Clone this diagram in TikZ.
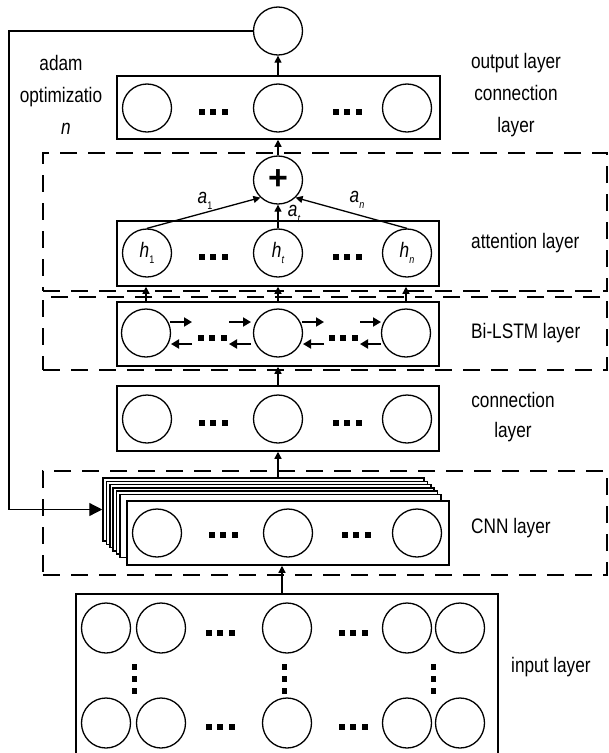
\documentclass[tikz,border=0pt]{standalone}
\usepackage{fontspec}
\setmainfont{Liberation Sans}[FakeStretch=0.82]
\newfontfamily\symfont{Liberation Sans}
\usetikzlibrary{arrows.meta,shapes.geometric}
% italic symbol with a small lowered index
\newcommand\sublbl[2]{{\itshape #1}\raisebox{-0.55ex}{\fontsize{11}{11}\selectfont #2}}
% three square dots in a row, centred on (#1,#2)
\newcommand\rowdots[2]{\foreach \k in {-1,0,1}{\fill ({#1+\k*11.5-3},{#2-3}) rectangle ++(6,6);}}
% three square dots in a column
\newcommand\coldots[2]{\foreach \k in {-1,0,1}{\fill ({#1-2.5},{#2+\k*12-3}) rectangle ++(5,6);}}
\begin{document}
\begin{tikzpicture}[x=1pt,y=-1pt,
  neuron/.style={ellipse,draw,line width=1.3pt,minimum width=49pt,minimum height=48pt,inner sep=0pt},
  layerbox/.style={draw,line width=1.5pt,inner sep=0pt,minimum width=322pt,minimum height=64pt},
  groupbox/.style={draw,line width=1.5pt,dash pattern=on 17pt off 11pt,inner sep=0pt,minimum width=564pt},
  link/.style={line width=1.3pt,-{Triangle[length=7pt,width=7pt]}},
  lstmarrow/.style={line width=1.8pt,-{Triangle[length=8pt,width=9pt]}},
  txt/.style={font=\fontsize{21}{32}\selectfont,inner sep=0pt,align=center},
  sym/.style={font=\fontsize{21}{21}\selectfont,inner sep=0pt},
]
\useasboundingbox (0,0) rectangle (609,753);

% dashed group frames
\node[groupbox,minimum height=138pt] (attgrp) at (325,222) {};
\node[groupbox,minimum height=73pt] (lstmgrp) at (325,333.5) {};
\node[groupbox,minimum height=104pt] (cnngrp) at (325,523) {};

% output node and output connection layer
\node[neuron] (out) at (278,31) {};
\node[layerbox,minimum width=323pt,minimum height=63pt] (outbox) at (278.5,107.5) {};
\node[neuron] (o1) at (147,108) {};
\node[neuron] (o2) at (278,108) {};
\node[neuron] (o3) at (407,108) {};
\rowdots{213}{112}
\rowdots{347}{112}

% attention layer
\node[neuron] (plus) at (278,180) {\symfont\fontsize{34}{34}\selectfont\bfseries +};
\node[layerbox,minimum height=65pt] (attbox) at (278,253.5) {};
\node[neuron,sym] (h1) at (147,253) {\sublbl{h}{1}};
\node[neuron,sym] (h2) at (278,253) {\sublbl{h}{\itshape t}};
\node[neuron,sym] (h3) at (407,253) {\sublbl{h}{\itshape n}};
\rowdots{213}{257}
\rowdots{347}{257}

% Bi-LSTM layer
\node[layerbox] (lstmbox) at (278,334) {};
\node[neuron] (l1) at (146,333) {};
\node[neuron] (l2) at (278,333) {};
\node[neuron] (l3) at (406,333) {};
\rowdots{212}{338}
\rowdots{343}{338}

% connection layer
\node[layerbox,minimum height=65pt] (connbox) at (278,418.5) {};
\node[neuron] (c1) at (147,419) {};
\node[neuron] (c2) at (278,419) {};
\node[neuron] (c3) at (407,419) {};
\rowdots{213}{423}
\rowdots{347}{423}

% CNN layer: stack of feature maps, front map last
\foreach \i in {0,...,5}
  \node[layerbox,fill=white,minimum width=321pt,minimum height=63pt] (stack\i) at ({263.5+3.4*\i},{509.5+3.3*\i}) {};
\node[layerbox,fill=white,minimum width=322pt,minimum height=64pt] (stack6) at (288,533) {};
\node[neuron] (k1) at (157,533) {};
\node[neuron] (k2) at (288,533) {};
\node[neuron] (k3) at (417,533) {};
\rowdots{223}{535}
\rowdots{356}{535}

% input layer
\node[layerbox,minimum width=422pt,minimum height=172pt,anchor=north] (inbox) at (287,593) {};
\foreach \r/\yy in {a/628,b/723}{
  \node[neuron,minimum height=50pt] (i\r1) at (106,\yy) {};
  \node[neuron,minimum height=50pt] (i\r2) at (161,\yy) {};
  \node[neuron,minimum height=50pt] (i\r3) at (287,\yy) {};
  \node[neuron,minimum height=50pt] (i\r4) at (407,\yy) {};
  \node[neuron,minimum height=50pt] (i\r5) at (460,\yy) {};
}
\rowdots{220}{633}
\rowdots{353}{633}
\rowdots{220}{727}
\rowdots{353}{727}
\coldots{134}{679}
\coldots{284}{679}
\coldots{433}{679}

% connectors between layers
\draw[link] (out |- outbox.north) -- (out.south);
\draw[link] (plus.north) -- (plus |- outbox.south);
\draw[link] (h1.north) -- (plus.225);
\draw[link] (h2.north) -- (plus.south);
\draw[link] (h3.north) -- (plus.-45);
\foreach \n in {1,2,3}
  \draw[link] (l\n |- lstmbox.north) -- (l\n |- attbox.south);
\draw[link] (connbox.north) -- (lstmbox.south);
\draw[link] (connbox.south |- stack0.north) -- (connbox.south);
\coordinate (inarrow) at (282,593);
\draw[link] (inarrow) -- (inarrow |- stack6.south);

% feedback path of the optimiser
\coordinate (fbtop) at (9,31);
\coordinate (fbbot) at (9,509.5);
\draw[line width=1.3pt,-{Triangle[length=13pt,width=13pt]}] (out.west) -- (fbtop) -- (fbbot) -- (stack0.west);

% recurrent links of the Bi-LSTM
\draw[lstmarrow] ([shift={(24pt,11pt)}]l1.center) -- ++(22pt,0pt);
\draw[lstmarrow] ([shift={(46pt,-11pt)}]l1.center) -- ++(-21pt,0pt);
\draw[lstmarrow] ([shift={(-49pt,11pt)}]l2.center) -- ++(22pt,0pt);
\draw[lstmarrow] ([shift={(-27pt,-11pt)}]l2.center) -- ++(-22pt,0pt);
\draw[lstmarrow] ([shift={(24pt,11pt)}]l2.center) -- ++(22pt,0pt);
\draw[lstmarrow] ([shift={(46pt,-11pt)}]l2.center) -- ++(-21pt,0pt);
\draw[lstmarrow] ([shift={(-46pt,11pt)}]l3.center) -- ++(21pt,0pt);
\draw[lstmarrow] ([shift={(-25pt,-11pt)}]l3.center) -- ++(-21pt,0pt);

% attention weights
\node[sym] (wa1) at (205,201) {\sublbl{a}{1}};
\node[sym] (wat) at (294,214) {\sublbl{a}{\itshape t}};
\node[sym] (wan) at (357,200) {\sublbl{a}{\itshape n}};

% layer captions
\node[txt] (adam) at (61,95) {adam\\optimizatio\\\hspace*{10pt}{\itshape n}};
\node[txt] (outlbl) at (516,95) {output layer\\connection\\layer};
\node[txt,anchor=west] (attlbl) at (471,243) {attention layer};
\node[txt,anchor=west] (lstmlbl) at (471,333) {Bi-LSTM layer};
\node[txt,font=\fontsize{21}{30}\selectfont] (connlbl) at (513,417) {connection\\layer};
\node[txt,anchor=west] (cnnlbl) at (471,528) {CNN layer};
\node[txt,anchor=west] (inlbl) at (511,667) {input layer};
\end{tikzpicture}
\end{document}
